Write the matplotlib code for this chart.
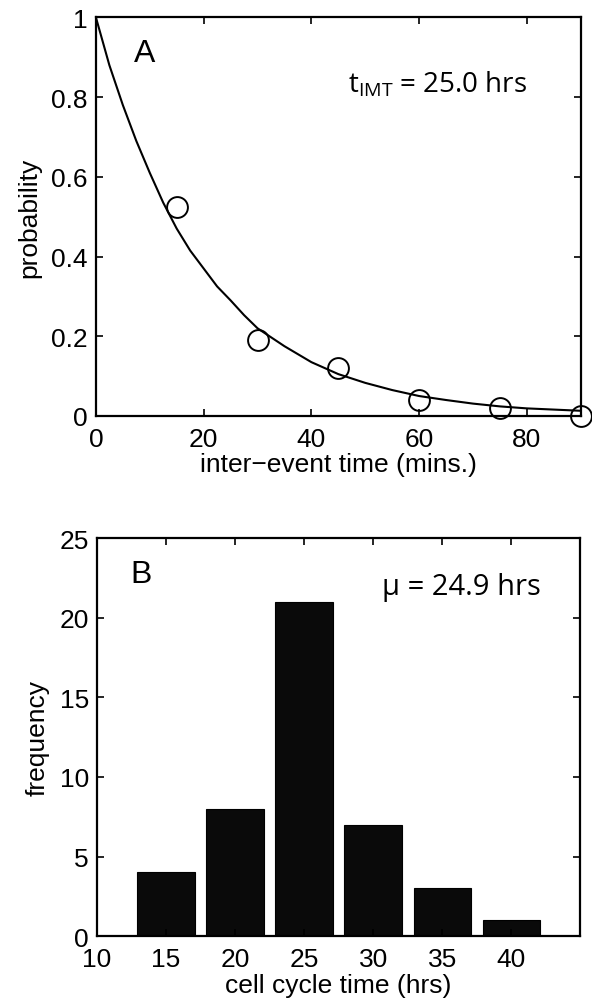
import numpy as np
import matplotlib.pyplot as plt

# panel A: inter-event times
t_points = [15, 30, 45, 60, 75, 90]
p_points = [0.525, 0.19, 0.12, 0.04, 0.02, 0.0]

# fitted curve
t_curve = [0, 2.5, 5, 7.5, 10, 12.5, 15, 17.5, 20, 22.5, 25, 27.5, 30, 35, 40, 45,
           50, 55, 60, 65, 70, 75, 80, 85, 90]
p_curve = [1.0, 0.88, 0.78, 0.69, 0.61, 0.535, 0.47, 0.415, 0.37, 0.325, 0.29, 0.253,
           0.22, 0.175, 0.135, 0.105, 0.083, 0.065, 0.05, 0.04, 0.031, 0.024, 0.019,
           0.016, 0.013]

# panel B: cell cycle histogram
bin_centers = [15, 20, 25, 30, 35, 40]
counts = [4, 8, 21, 7, 3, 1]

plt.rcParams['font.family'] = ['Liberation Sans', 'DejaVu Sans']
plt.rcParams['font.size'] = 19

fig = plt.figure(figsize=(5.92, 10.04), dpi=100)
axA = fig.add_axes([0.162, 0.5847, 0.819, 0.397])
axB = fig.add_axes([0.164, 0.0667, 0.816, 0.396])

for ax in (axA, axB):
    for s in ax.spines.values():
        s.set_linewidth(1.6)
    ax.tick_params(direction='in', top=True, right=True, length=5, width=1.2,
                   labelsize=19)
    ax.tick_params(axis='y', pad=6)
    ax.tick_params(axis='x', pad=8)

# --- A
axA.plot(t_curve, p_curve, color='black', lw=1.5)
axA.plot(t_points, p_points, 'o', mfc='none', mec='black', ms=15, mew=1.4,
         clip_on=False, zorder=5)
axA.set_xlim(0, 90)
axA.set_ylim(0, 1)
axA.set_xticks([0, 20, 40, 60, 80])
axA.set_yticks([0, 0.2, 0.4, 0.6, 0.8, 1])
axA.set_yticklabels(['0', '0.2', '0.4', '0.6', '0.8', '1'])
axA.set_xlabel('inter\u2212event time (mins.)', fontsize=19, labelpad=1)
axA.set_ylabel('probability', fontsize=19, labelpad=7)
axA.text(0.078, 0.89, 'A', transform=axA.transAxes, fontsize=23)
axA.text(0.52, 0.815, r'$\mathregular{t_{IMT}}$ = 25.0 hrs', transform=axA.transAxes,
         fontsize=20, family=['Open Sans', 'DejaVu Sans'])

# --- B
axB.bar(bin_centers, counts, width=4.15, color='#0a0a0a', edgecolor='black', lw=0.8)
axB.set_xlim(10, 45)
axB.set_ylim(0, 25)
axB.set_xticks([10, 15, 20, 25, 30, 35, 40])
axB.set_yticks([0, 5, 10, 15, 20, 25])
axB.set_xlabel('cell cycle time (hrs)', fontsize=19, labelpad=1)
axB.set_ylabel('frequency', fontsize=19, labelpad=7)
axB.text(0.068, 0.89, 'B', transform=axB.transAxes, fontsize=23)
axB.text(0.59, 0.86, '\u03bc = 24.9 hrs', transform=axB.transAxes,
         fontsize=21, family=['Open Sans', 'DejaVu Sans'])

fig.savefig('out.png', dpi=100)
